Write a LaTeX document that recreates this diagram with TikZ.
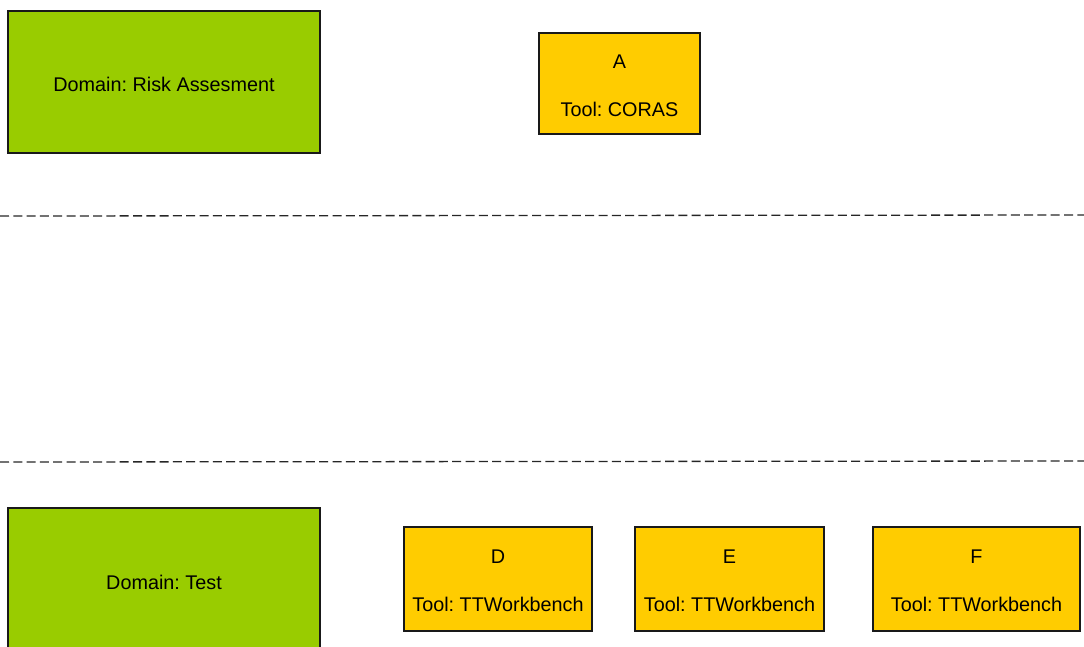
\documentclass[tikz,border=0pt]{standalone}
\usepackage{fontspec}
\setmainfont{Liberation Sans}
\frenchspacing
\begin{document}
\begin{tikzpicture}[x=1pt,y=-1pt,
  box/.style={draw=black!90,line width=1.3pt,inner sep=0pt,outer sep=0pt},
  boxtext/.style={align=center,font=\fontsize{19.8}{48}\selectfont,yshift=-2pt},
  domainbox/.style={box,fill=domaingreen},
  toolbox/.style={box,fill=toolyellow},
  lanesep/.style={draw=black!85,line width=1.3pt,dash pattern=on 9pt off 4.3pt}]
\definecolor{domaingreen}{HTML}{99CC00}
\definecolor{toolyellow}{HTML}{FFCC00}
\useasboundingbox (0,0) rectangle (1084,646);
\clip (0,0) rectangle (1084,646);

% lane: risk assessment
\node[domainbox,minimum width=312pt,minimum height=142pt,
  label={[boxtext]center:Domain: Risk Assesment}] (riskdom) at (164,82) {};
\node[toolbox,minimum width=161pt,minimum height=101pt,
  label={[boxtext]center:{A\\Tool: CORAS}}] (a) at (619.5,83.5) {};

% lane separators
\coordinate (s1l) at (0,216);
\coordinate (s1r) at (1084,215);
\coordinate (s2l) at (0,462);
\coordinate (s2r) at (1084,461);
\draw[lanesep] (s1l) -- (s1r);
\draw[lanesep] (s2l) -- (s2r);

% lane: test
\node[domainbox,minimum width=312pt,minimum height=144pt,
  label={[boxtext]center:Domain: Test}] (testdom) at (164,580) {};
\node[toolbox,minimum width=188pt,minimum height=104pt,
  label={[boxtext]center:{D\\Tool: TTWorkbench}}] (d) at (498,579) {};
\node[toolbox,minimum width=189pt,minimum height=104pt,
  label={[boxtext]center:{E\\Tool: TTWorkbench}}] (e) at (729.5,579) {};
\node[toolbox,minimum width=207pt,minimum height=104pt,
  label={[boxtext]center:{F\\Tool: TTWorkbench}}] (f) at (976.5,579) {};
\end{tikzpicture}
\end{document}
